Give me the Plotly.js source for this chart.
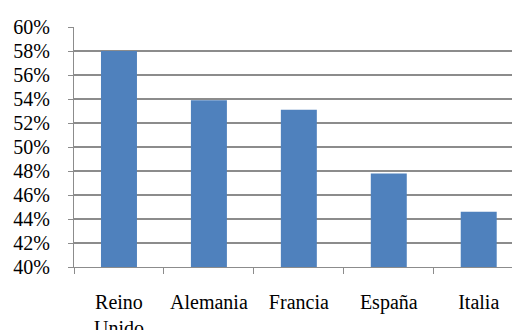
<!DOCTYPE html>
<html>
<head>
<meta charset="utf-8">
<script src="https://cdn.plot.ly/plotly-3.0.1.min.js"></script>
<style>html,body{margin:0;padding:0;background:#fff;}#chart{width:512px;height:330px;}</style>
</head>
<body>
<div id="chart"></div>
<script>
const categories = ["Reino<br>Unido", "Alemania", "Francia", "España", "Italia"];
const values = [0.580, 0.539, 0.531, 0.478, 0.446];
const yTickVals = [0.40, 0.42, 0.44, 0.46, 0.48, 0.50, 0.52, 0.54, 0.56, 0.58, 0.60];

const trace = {
  type: "bar",
  x: categories,
  y: values,
  width: 0.4,
  marker: {color: "#4f81bd"},
  hoverinfo: "none"
};

const serif = "Liberation Serif";

const layout = {
  width: 512, height: 330,
  margin: {l: 74, r: 0, t: 27, b: 63},
  paper_bgcolor: "#fff", plot_bgcolor: "#fff",
  showlegend: false,
  font: {family: serif, size: 20, color: "#000"},
  xaxis: {
    range: [-0.5, 4.37],
    showgrid: false,
    showline: true, linecolor: "#8c8c8c", linewidth: 1,
    ticks: "outside", tickson: "boundaries", ticklen: 6, tickcolor: "#8c8c8c", tickwidth: 1,
    ticklabelstandoff: 17,
    tickfont: {family: serif, size: 20, color: "#000"}
  },
  yaxis: {
    range: [0.40, 0.60],
    tickvals: yTickVals,
    tickformat: ".0%",
    showgrid: true, gridcolor: "#8c8c8c", gridwidth: 1.5,
    showline: true, linecolor: "#8c8c8c", linewidth: 1,
    ticks: "outside", ticklen: 5, tickcolor: "#8c8c8c",
    ticklabelstandoff: 14,
    tickfont: {family: serif, size: 20, color: "#000"},
    zeroline: false
  }
};

Plotly.newPlot("chart", [trace], layout, {staticPlot: true, displayModeBar: false});
</script>
</body>
</html>
